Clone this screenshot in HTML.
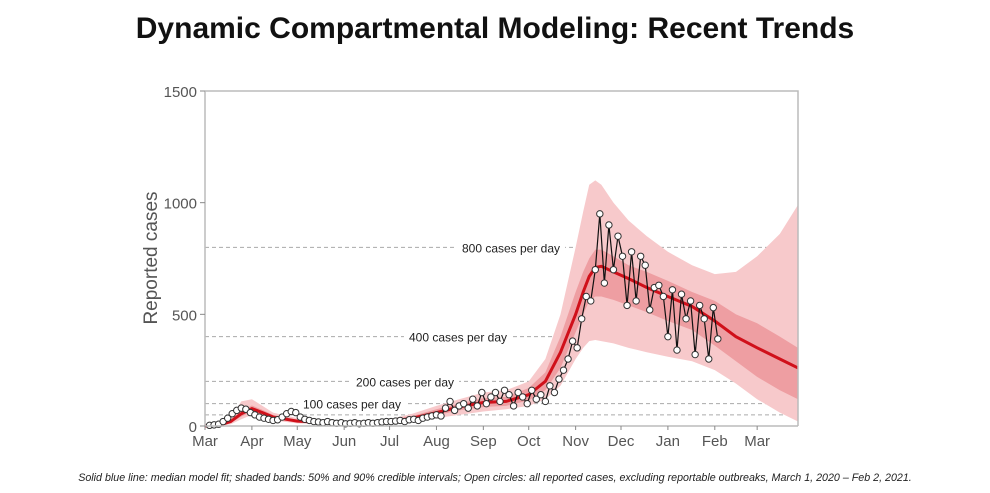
<!DOCTYPE html>
<html><head><meta charset="utf-8">
<style>
body{margin:0;background:#fff;width:990px;height:493px;overflow:hidden;font-family:"Liberation Sans",sans-serif}
#title{position:absolute;left:0;top:12px;width:990px;text-align:center;font-weight:bold;font-size:30px;color:#111}
#cap{position:absolute;left:0;top:472px;width:990px;text-align:center;font-style:italic;font-size:10.7px;color:#222}
svg{position:absolute;left:0;top:0}
</style></head><body>
<div id="title">Dynamic Compartmental Modeling: Recent Trends</div>
<svg id="chart" width="990" height="493"></svg>
<div id="cap">Solid blue line: median model fit; shaded bands: 50% and 90% credible intervals; Open circles: all reported cases, excluding reportable outbreaks, March 1, 2020 – Feb 2,  2021.</div>
<script>
const months=["Mar","Apr","May","Jun","Jul","Aug","Sep","Oct","Nov","Dec","Jan","Feb","Mar"];
const monthDays=[0,31,61,92,122,153,184,214,245,275,306,337,365];
const yTicks=[0,500,1000,1500];
const refLines=[50,100,200,400,800];
const refLabels=["","100 cases per day","200 cases per day","400 cases per day","800 cases per day"];
const bandDays=[0,10,17,24,31,38,45,61,92,122,137,153,168,184,199,214,225,235,245,250,254,258,262,270,280,292,306,322,337,351,365,380,392];
const median=[0,5,20,55,78,60,40,22,12,20,35,60,85,105,110,140,200,330,500,600,670,710,715,690,660,620,580,535,470,400,350,300,260];
const lo90=[0,2,8,30,50,38,25,12,6,10,20,35,50,65,75,90,120,180,300,350,380,385,380,370,350,330,310,290,250,190,120,60,20];
const hi90=[5,12,35,110,120,90,60,35,20,30,55,90,120,150,160,200,300,500,800,960,1080,1100,1080,1000,920,850,780,720,680,690,760,860,990];
const lo50=[0,3,14,42,65,50,32,17,9,15,28,48,70,85,90,115,160,260,420,500,560,580,580,565,540,510,470,430,360,290,220,160,120];
const hi50=[2,7,26,70,92,72,50,28,15,26,45,75,100,125,130,170,240,400,600,690,750,790,790,760,720,690,650,600,560,500,460,400,350];
const obsStart=3, obsStep=3;
const observed=[3,5,8,20,35,55,70,80,75,60,
50,40,35,30,25,28,40,55,65,60,
40,30,25,20,18,15,20,15,12,15,
10,12,15,10,12,15,12,15,18,20,
20,22,25,20,28,30,25,35,40,45,
50,45,80,110,70,90,100,80,
120,90,150,100,130,150,110,160,140,90,
150,130,100,160,120,140,110,180,150,210,
250,300,380,350,480,580,560,700,950,640,
900,700,850,760,540,780,560,760,720,520,
620,630,580,400,610,340,590,480,560,320,
540,480,300,530,390];

const L=205,R=798,T=91,B=426;
const x=d=>L+d*(R-L)/392;
const y=v=>B-v*(B-T)/1500;
const svg=document.getElementById('chart');
const NS="http://www.w3.org/2000/svg";
function mk(tag,attrs,parent){const e=document.createElementNS(NS,tag);for(const k in attrs)e.setAttribute(k,attrs[k]);(parent||svg).appendChild(e);return e;}

refLines.forEach((v,i)=>{
  const l=mk('line',{x1:L,x2:R,y1:y(v),y2:y(v),stroke:'#aaa','stroke-dasharray':'4,3','stroke-width':1});
  
  
});
function band(lo,hi,color,name){
  let d='M'+bandDays.map((dd,i)=>x(dd)+','+y(hi[i])).join(' L');
  for(let i=bandDays.length-1;i>=0;i--)d+=' L'+x(bandDays[i])+','+y(lo[i]);
  const p=mk('path',{d:d+'Z',fill:color});
  
  
}
band(lo90,hi90,'#f7c9cb','band-90');
band(lo50,hi50,'#ee9ea2','band-50');
refLines.forEach((v,i)=>{
  if(!refLabels[i])return;
  const cx=[0,352,405,458,511][i];
  const t=mk('text',{x:cx,y:y(v)+5,'text-anchor':'middle','font-size':12,fill:'#222'});
  t.textContent=refLabels[i];
  const w=t.getComputedTextLength()+10;
  const bg=mk('rect',{x:cx-w/2,y:y(v)-8,width:w,height:16,fill:'#fff'});
  svg.insertBefore(bg,t);
  
  
  
  
});
const ml=mk('polyline',{points:bandDays.map((d,i)=>x(d)+','+y(median[i])).join(' '),fill:'none',stroke:'#d0101a','stroke-width':3});


const op=mk('polyline',{points:observed.map((v,i)=>x(obsStart+i*obsStep)+','+y(v)).join(' '),fill:'none',stroke:'#111','stroke-width':1.2});


observed.forEach((v,i)=>{
  const c=mk('circle',{cx:x(obsStart+i*obsStep),cy:y(v),r:3.2,fill:'#fff',stroke:'#333','stroke-width':1});
  
  
});
const fr=mk('path',{d:`M${L},${T} H${R} V${B} M${L},${T} V${B} H${R}`,fill:'none',stroke:'#bbb','stroke-width':1.5});


yTicks.forEach(v=>{
  mk('line',{x1:L-5,x2:L,y1:y(v),y2:y(v),stroke:'#888'});
  const t=mk('text',{x:L-8,y:y(v)+6,'text-anchor':'end','font-size':15,fill:'#555'});
  t.textContent=v;
  
  
});
months.forEach((m,i)=>{
  mk('line',{x1:x(monthDays[i]),x2:x(monthDays[i]),y1:B,y2:B+4,stroke:'#888'});
  const t=mk('text',{x:x(monthDays[i]),y:B+20,'text-anchor':'middle','font-size':15,fill:'#555'});
  t.textContent=m;
  
  
});
const yl=mk('text',{x:157,y:258,transform:'rotate(-90 157 258)','text-anchor':'middle','font-size':19,fill:'#555'});
yl.textContent='Reported cases';


</script>
</body></html>
